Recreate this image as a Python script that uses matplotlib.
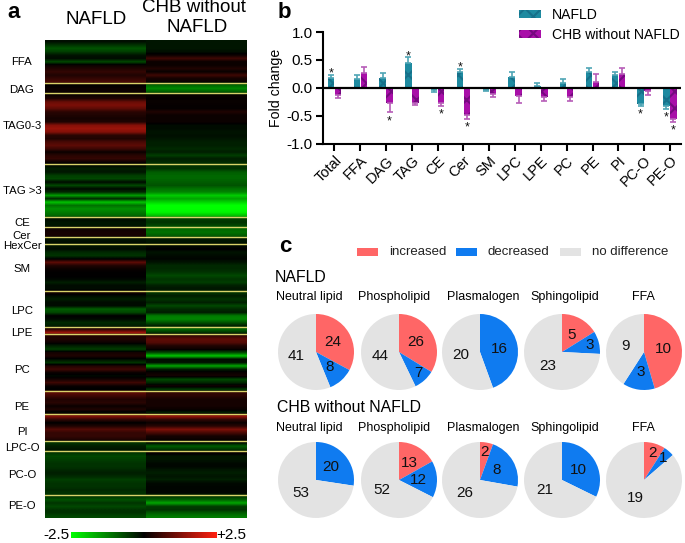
import matplotlib
matplotlib.use('Agg')
import matplotlib.pyplot as plt
import numpy as np
from matplotlib.colors import LinearSegmentedColormap, Normalize
from matplotlib.cm import ScalarMappable
from matplotlib.patches import Rectangle

plt.rcParams['font.family'] = ['Liberation Sans', 'DejaVu Sans']
plt.rcParams['hatch.linewidth'] = 1.5

W, H = 685, 543

# panel a: each row is one lipid, per section
sections = ['FFA', 'DAG', 'TAG0-3', 'TAG >3', 'CE', 'Cer', 'HexCer', 'SM', 'LPC', 'LPE',
            'PC', 'PE', 'PI', 'LPC-O', 'PC-O', 'PE-O']
nafld_rows = [
    [-.15, -.5, -.8, -.6, -.2, -.1, -.7, .1, .3, .5, .3, .5, .7],
    [0, .1, .1],
    [.1, .3, 1.0, 1.2, .9, .4, .3, .2, .3, 1.3, 1.5, 1.3, .4, .3, .7, .9, .6, .1, .4, .5, .1],
    [-.1, -.3, -.2, -.6, -.7, -.1, -.7, -.1, -.4, -1.5, -.4, -1.9, -1.1, -1.4, -1.2, -1.0],
    [-.1, -.2, -.2],
    [.15, .2, .2],
    [-.2, -.1],
    [-.2, -.1, -.4, -.5, .0, .9, .3, .1, 0, 0, -.05, -.3, -.1, -.1],
    [.2, -.1, -.3, -.1, -.1, -.9, -.7, 0, -.1, -.4, -.3],
    [.4, 1.5],
    [.3, .3, .1, -.3, -.6, .2, .3, -.1, -.5, .3, .6, .1, -.1, .2, .6, .1, -.05],
    [.9, .6, .3, .4, .1, .3, -.1],
    [1.3, .5, 0, .3, .8, .5, .5, .3],
    [-.5, -.3, -.2],
    [-.5, -.7, -.6, -.5, -.5, -.4, -.3, -.4, -.6, -.5, -.5, -.4, -.5],
    [-.5, -.8, -.5, -.7, -.5, -.5, -.7],
]
chb_rows = [
    [-.2, -.2, -.2, -.15, .1, .6, .1, .1, .3, .1, .6, .2, .1],
    [-1.0, -1.3, -.9],
    [.1, .05, .1, .05, .05, .3, .1, .1, .1, -.1, -.1, -.2, -.15, -.2, -.3, -.3, -.4, -.3, -.6, -.3, -.4],
    [-.5, -.5, -.9, -1.0, -1.0, -.9, -.8, -1.1, -1.3, -2.0, -1.6, -2.1, -2.5, -2.5, -2.4, -1.9],
    [-.6, -.5, -.7],
    [-1.0, -1.1, -.9],
    [-.2, -.2],
    [-.1, 0, -.2, -.1, -.05, -.2, -.4, -.4, -.5, -.7, -.5, -.6, -.3, -.2],
    [-.5, -.3, -.5, -.3, -.7, -.4, -.3, -1.2, -1.3, -.8, -.3],
    [-1.0, -.5],
    [.5, .9, .8, .3, .1, -.7, -1.9, -.1, -.2, -1.6, -.3, .1, .2, -.7, -.4, .2, -.6],
    [.5, .4, .2, .2, .2, .1, -.3],
    [1.5, .5, .1, .4, 1.2, .7, .2, .1],
    [-.1, -.9, -.5],
    [.1, -.2, -.2, -.1, -.05, -.2, -.3, -.2, -.3, -.1, -.05, -.05, -.05],
    [-.5, -.9, -1.6, -.6, -.5, -.9, -1.2],
]
section_label_y = [62, 90, 126, 191, 223, 236, 246, 269, 311, 333, 370, 407, 432, 448, 475, 506]

# panel b
lipid_classes = ['Total', 'FFA', 'DAG', 'TAG', 'CE', 'Cer', 'SM', 'LPC', 'LPE', 'PC', 'PE', 'PI', 'PC-O', 'PE-O']
nafld_fc = [.18, .16, .18, .44, -.03, .28, -.03, .20, .04, .09, .28, .23, -.29, -.32]
nafld_err = [.05, .07, .09, .11, .04, .06, .03, .08, .05, .06, .07, .06, .03, .05]
chb_fc = [-.12, .26, -.28, -.28, -.27, -.49, -.11, -.15, -.17, -.16, .11, .25, -.06, -.55]
chb_err = [.06, .12, .16, .03, .05, .06, .06, .12, .07, .07, .13, .10, .07, .06]
nafld_sig = ['Total', 'TAG', 'Cer', 'PC-O', 'PE-O']
chb_sig = ['DAG', 'CE', 'Cer', 'PE-O']

# panel c: increased, decreased, no difference
pie_groups = ['Neutral lipid', 'Phospholipid', 'Plasmalogen', 'Sphingolipid', 'FFA']
nafld_counts = [[24, 8, 41], [26, 7, 44], [0, 16, 20], [5, 3, 23], [10, 3, 9]]
chb_counts = [[0, 20, 53], [13, 12, 52], [2, 8, 26], [0, 10, 21], [2, 1, 19]]
pie_colors = ['#FF6666', '#0F7BF0', '#E3E3E3']
pie_names = ['increased', 'decreased', 'no difference']


def px_axes(x0, y0, x1, y1):
    # rectangle given in image pixels, y going down
    return fig.add_axes([x0 / W, 1 - y1 / H, (x1 - x0) / W, (y1 - y0) / H])


def px_text(x, y, s, **kw):
    kw.setdefault('ha', 'center')
    kw.setdefault('va', 'center')
    fig.text(x / W, 1 - y / H, s, **kw)


fig = plt.figure(figsize=(W / 100, H / 100), dpi=100)

# a
cmap = LinearSegmentedColormap.from_list('gkr', ['#00ff00', '#000000', '#ff2010'])
norm = Normalize(-2.5, 2.5)
nafld_col = np.concatenate(nafld_rows)
chb_col = np.concatenate(chb_rows)
n_rows = len(nafld_col)
ax = px_axes(45, 40, 247, 518)
ax.imshow(nafld_col[:, None], extent=(0, 1, n_rows, 0), cmap=cmap, norm=norm, aspect='auto', interpolation='bilinear')
ax.imshow(chb_col[:, None], extent=(1, 2, n_rows, 0), cmap=cmap, norm=norm, aspect='auto', interpolation='bilinear')
ax.set_xlim(0, 2)
ax.set_ylim(n_rows, 0)
ax.axis('off')
for b in np.cumsum([len(r) for r in nafld_rows])[:-1]:
    ax.axhline(b, color='#d9d36a', lw=1.0)
px_text(96, 20, 'NAFLD', fontsize=13.5)
px_text(194, 8, 'CHB without', fontsize=13.5)
px_text(197, 27, 'NAFLD', fontsize=13.5)
for name, y in zip(sections, section_label_y):
    px_text(22, y, name, fontsize=8.2)
cax = px_axes(71, 532, 217, 538)
fig.colorbar(ScalarMappable(norm=norm, cmap=cmap), cax=cax, orientation='horizontal')
cax.set_xticks([])
cax.axis('off')
px_text(56, 535, '-2.5', fontsize=11)
px_text(231, 535, '+2.5', fontsize=11)
px_text(14, 13, 'a', fontsize=16, fontweight='bold')
px_text(284, 12, 'b', fontsize=16, fontweight='bold')
px_text(285, 246, 'c', fontsize=16, fontweight='bold')

# b
ax = px_axes(322.7, 32, 681, 143.7)
x = np.arange(len(lipid_classes))
off = 0.135
w = 0.25
ax.bar(x - off, nafld_fc, w, color='#1E8AA0', hatch='xx', edgecolor='#17708A', lw=0, label='NAFLD')
ax.bar(x + off, chb_fc, w, color='#A80FA8', hatch='xx', edgecolor='#75097F', lw=0, label='CHB without NAFLD')
for xs, vals, errs, c in [(x - off, nafld_fc, nafld_err, '#4FA5B5'), (x + off, chb_fc, chb_err, '#B65CB8')]:
    for xi, v, e in zip(xs, vals, errs):
        lo, hi = (0, e) if v >= 0 else (e, 0)
        ax.errorbar(xi, v, yerr=[[lo], [hi]], color=c, capsize=2, lw=1.2, capthick=1.2)
for i, name in enumerate(lipid_classes):
    if name in nafld_sig:
        v = nafld_fc[i] + np.sign(nafld_fc[i]) * (nafld_err[i] + .09) - .07
        ax.text(i - off, v, '*', ha='center', va='center', fontsize=9, color='#111111')
    if name in chb_sig:
        v = chb_fc[i] + np.sign(chb_fc[i]) * (chb_err[i] + .09) - .07
        ax.text(i + off, v, '*', ha='center', va='center', fontsize=9, color='#111111')
ax.axhline(0, color='black', lw=1.6)
ax.set_xlim(-0.457, 13.43)
ax.set_ylim(-1, 1)
ax.set_yticks([-1, -.5, 0, .5, 1], ['-1.0', '-0.5', '0.0', '0.5', '1.0'], fontsize=11)
ax.set_xticks(x, lipid_classes, rotation=45, ha='right', rotation_mode='anchor', fontsize=10.5)
ax.set_ylabel('Fold change', fontsize=10.2, labelpad=3)
ax.tick_params(width=1.5, length=5, pad=2)
ax.spines[['top', 'right']].set_visible(False)
ax.spines[['left', 'bottom']].set_linewidth(1.5)
ax.patch.set_alpha(0)
fig.legend(*ax.get_legend_handles_labels(), loc='upper left', bbox_to_anchor=(508 / W, 1 + 3 / H), frameon=False,
           fontsize=10.1, handlelength=1.55, handleheight=.5, handletextpad=.8, labelspacing=.4, borderpad=.3)

# c
legend_x = [(357, 389), (456, 488), (560, 592)]
for (rx, tx), c, name in zip(legend_x, pie_colors, pie_names):
    fig.add_artist(Rectangle((rx / W, 1 - 256 / H), 21 / W, 8 / H, transform=fig.transFigure, color=c, lw=0))
    px_text(tx, 252, name, ha='left', fontsize=9.5, color='#222222')
px_text(275, 277, 'NAFLD', ha='left', fontsize=11.4)
px_text(277, 408, 'CHB without NAFLD', ha='left', fontsize=11.4)

pie_cx = [316, 399, 480, 562, 644]
title_cx = [309, 394, 483, 565, 643]
for counts_row, cy, ty in [(nafld_counts, 352, 297), (chb_counts, 480, 428)]:
    for counts, cx, tx, name in zip(counts_row, pie_cx, title_cx, pie_groups):
        px_text(tx, ty, name, fontsize=9)
        ax = px_axes(cx - 38, cy - 38, cx + 38, cy + 38)
        keep = [i for i, c in enumerate(counts) if c > 0]
        vals = [counts[i] for i in keep]
        wedges, _, nums = ax.pie(vals, colors=[pie_colors[i] for i in keep], startangle=90, counterclock=False,
                                 radius=1, autopct=lambda p, v=vals: str(int(round(p * sum(v) / 100))),
                                 pctdistance=.52, textprops={'fontsize': 11, 'color': '#111111'})
        # thin slices: number further out, as in the figure
        for val, t in zip(vals, nums):
            if val / sum(vals) < .1:
                px, py = t.get_position()
                t.set_position((px * 1.45, py * 1.45))
        ax.set_xlim(-1, 1)
        ax.set_ylim(-1, 1)

fig.savefig('out.png', dpi=100)
